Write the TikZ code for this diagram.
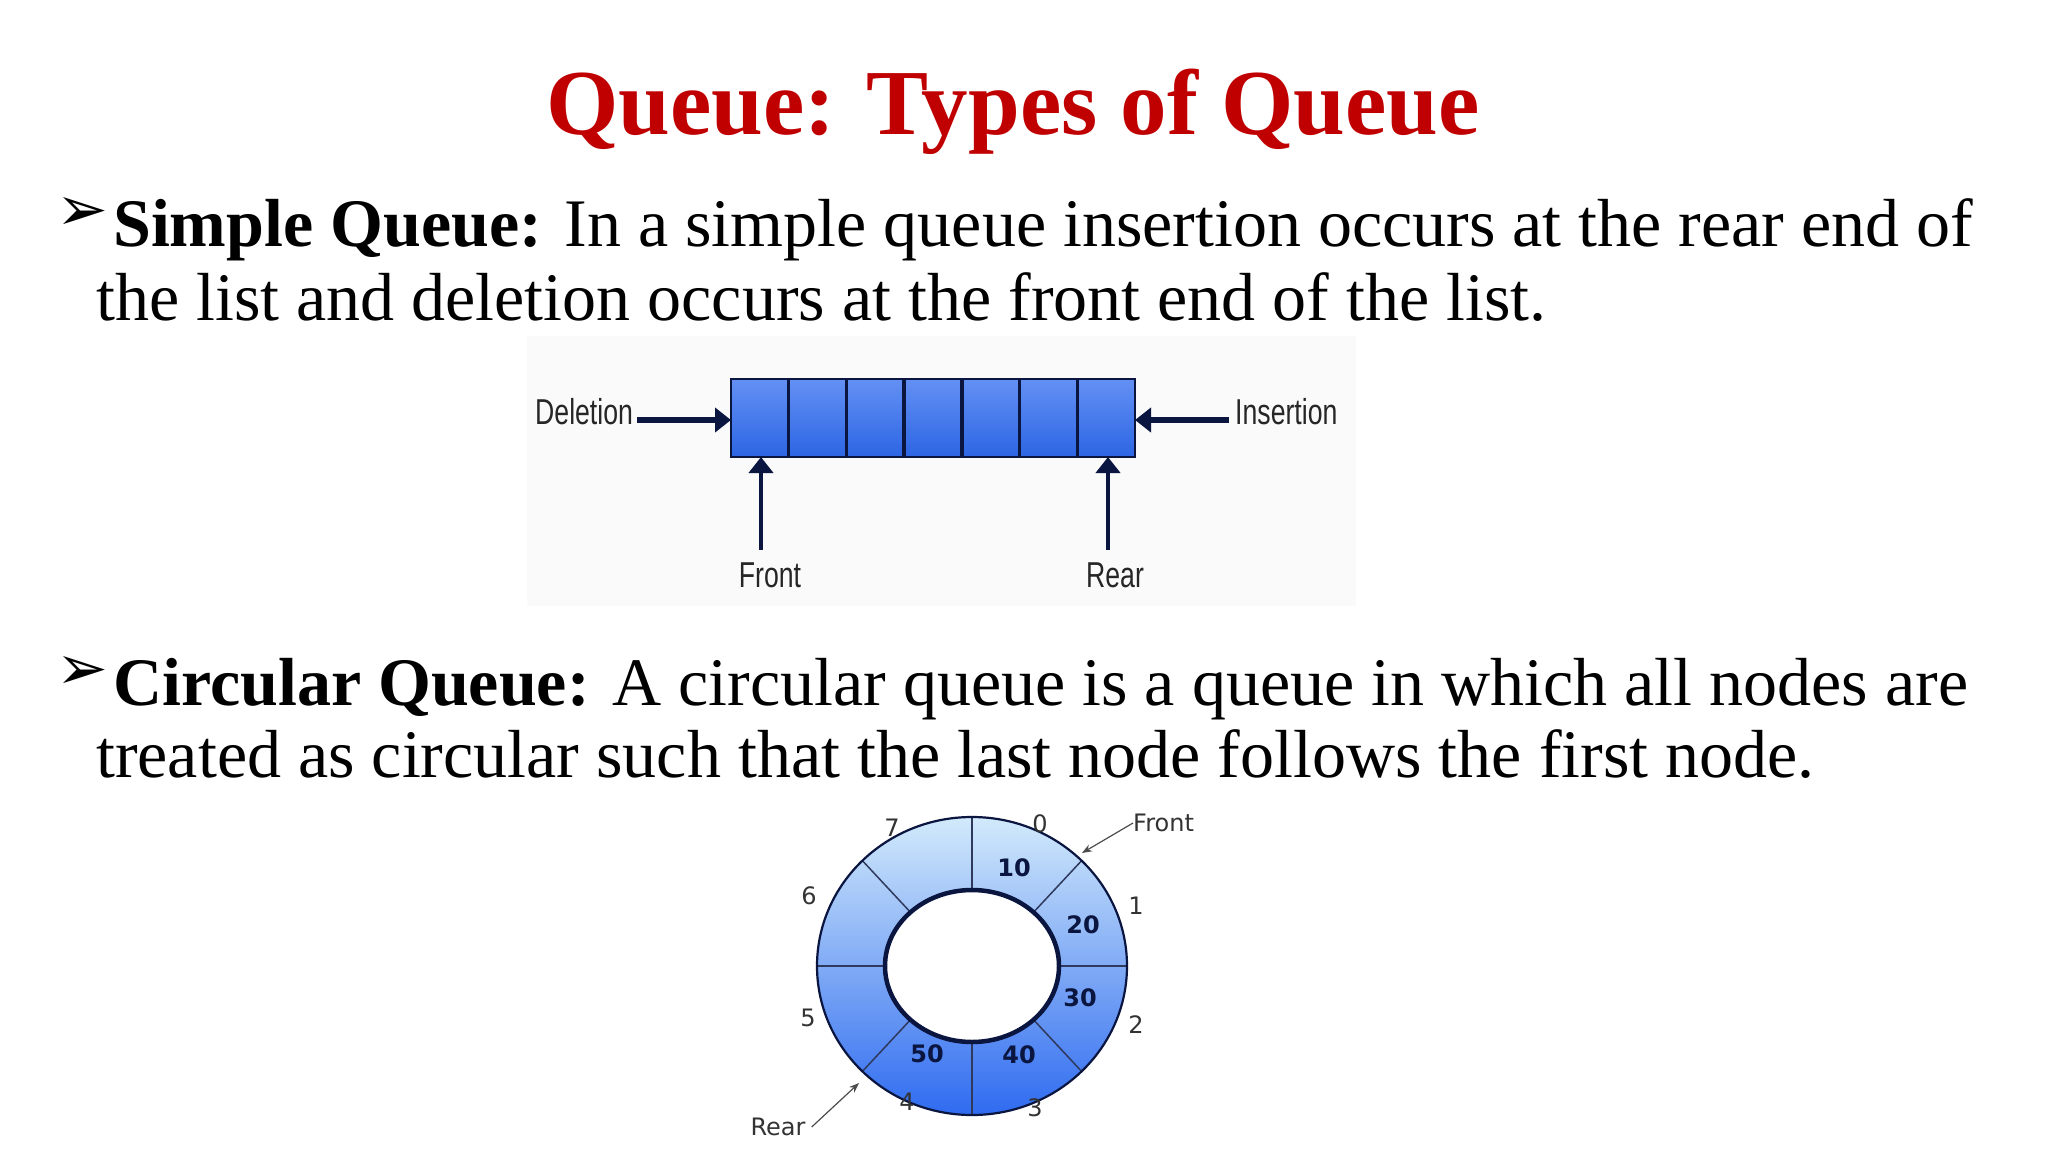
\documentclass[tikz,border=0pt]{standalone}
\usepackage{fontspec}
\setmainfont{Liberation Serif}
\newfontfamily\narrowsans[FakeStretch=0.74]{Liberation Sans}
\newfontfamily\dejavu{DejaVu Sans}
\definecolor{titlered}{HTML}{C00000}
\definecolor{qblue}{HTML}{2F6BF0}
\definecolor{qlight}{HTML}{D2EAFB}
\definecolor{qdark}{HTML}{0A1540}
\tikzset{
  body/.style={anchor=base west,inner sep=0,font=\fontsize{68}{68}\selectfont},
  lbl/.style={inner sep=0,font=\narrowsans\fontsize{36}{36}\selectfont,text=black!85},
  clbl/.style={inner sep=0,font=\dejavu\fontsize{24}{24}\selectfont,text=black!80},
  cval/.style={inner sep=0,font=\dejavu\bfseries\fontsize{24}{24}\selectfont,text=qdark},
  bigarrow/.style={line width=6pt,draw=qdark,-{Triangle[length=16pt,width=24pt]}},
  thinarrow/.style={line width=1.2pt,draw=black!70,-{Stealth[length=10pt]}}
}
\usetikzlibrary{arrows.meta}
\begin{document}
\begin{tikzpicture}[x=1pt,y=-1pt]
\useasboundingbox (0,0) rectangle (2048,1152);
\fill[white] (0,0) rectangle (2048,1152);
% title
\node[anchor=base,inner sep=0,text=titlered,font=\bfseries\fontsize{93}{93}\selectfont] (title) at (1013,134) {Queue: Types of Queue};
% bullets
\node[anchor=base west,inner sep=0,font=\dejavu\fontsize{62}{62}\selectfont] (b1) at (56,230) {➢};
\node[body] (s1) at (113,246) {\textbf{Simple Queue:} In a simple queue insertion occurs at the rear end of};
\node[body] (s2) at (96,320) {the list and deletion occurs at the front end of the list.};
\node[anchor=base west,inner sep=0,font=\dejavu\fontsize{62}{62}\selectfont] (b2) at (56,689) {➢};
\node[body] (c1) at (113,705) {\textbf{Circular Queue:} A circular queue is a queue in which all nodes are};
\node[body] (c2) at (96,777) {treated as circular such that the last node follows the first node.};
% simple queue diagram
\fill[black!2] (527,336) rectangle (1356,606);
\shade[top color=qblue!75!white,bottom color=qblue!95!black,draw=qdark,line width=2.5pt] (731,379) rectangle (1135,457);
\foreach \i in {1,...,6}{\draw[qdark,line width=3.5pt] ({731+\i*404/7},379) -- ({731+\i*404/7},457);}
\coordinate (boxL) at (731,420);
\coordinate (boxR) at (1135,420);
\node[lbl,anchor=base west] (del) at (535,424) {Deletion};
\node[lbl,anchor=base west] (ins) at (1235,424) {Insertion};
\draw[bigarrow] (del.east |- boxL) ++(4,0) -- (boxL);
\draw[bigarrow] (ins.west |- boxR) ++(-6,0) -- (boxR);
\node[lbl,anchor=base] (fr) at (770,587) {Front};
\node[lbl,anchor=base] (re) at (1115,587) {Rear};
\coordinate (frt) at (761,457);
\coordinate (ret) at (1108,457);
\draw[bigarrow,line width=4.5pt] (761,550) -- (frt);
\draw[bigarrow,line width=4.5pt] (1108,550) -- (ret);
% circular queue
\begin{scope}[shift={(972,966)}]
\shade[top color=qlight,bottom color=qblue,even odd rule] (0,0) ellipse [x radius=155,y radius=149] (0,0) ellipse [x radius=87,y radius=76];
\foreach \a in {0,45,...,315}{
  \draw[qdark!85,line width=1.5pt] ({87*cos(\a)},{-76*sin(\a)}) -- ({155*cos(\a)},{-149*sin(\a)});}
\draw[qdark,line width=2.2pt] (0,0) ellipse [x radius=155,y radius=149];
\draw[qdark,line width=4.5pt] (0,0) ellipse [x radius=87,y radius=76];
\end{scope}
\node[clbl] (i0) at (1040,824) {0};
\node[clbl] (i1) at (1136,906) {1};
\node[clbl] (i2) at (1136,1025) {2};
\node[clbl] (i3) at (1035,1108) {3};
\node[clbl] (i4) at (907,1102) {4};
\node[clbl] (i5) at (808,1018) {5};
\node[clbl] (i6) at (809,896) {6};
\node[clbl] (i7) at (892,828) {7};
\node[cval] (v10) at (1014,868) {10};
\node[cval] (v20) at (1083,925) {20};
\node[cval] (v30) at (1080,998) {30};
\node[cval] (v40) at (1019,1055) {40};
\node[cval] (v50) at (927,1054) {50};
\node[clbl,anchor=west] (front) at (1133,823) {Front};
\node[clbl] (rear) at (778,1127) {Rear};
\coordinate (fp) at (1082,853);
\coordinate (rp) at (859,1083);
\draw[thinarrow] (front.west) -- (fp);
\draw[thinarrow] ([xshift=6pt]rear.east) -- (rp);
\end{tikzpicture}
\end{document}
